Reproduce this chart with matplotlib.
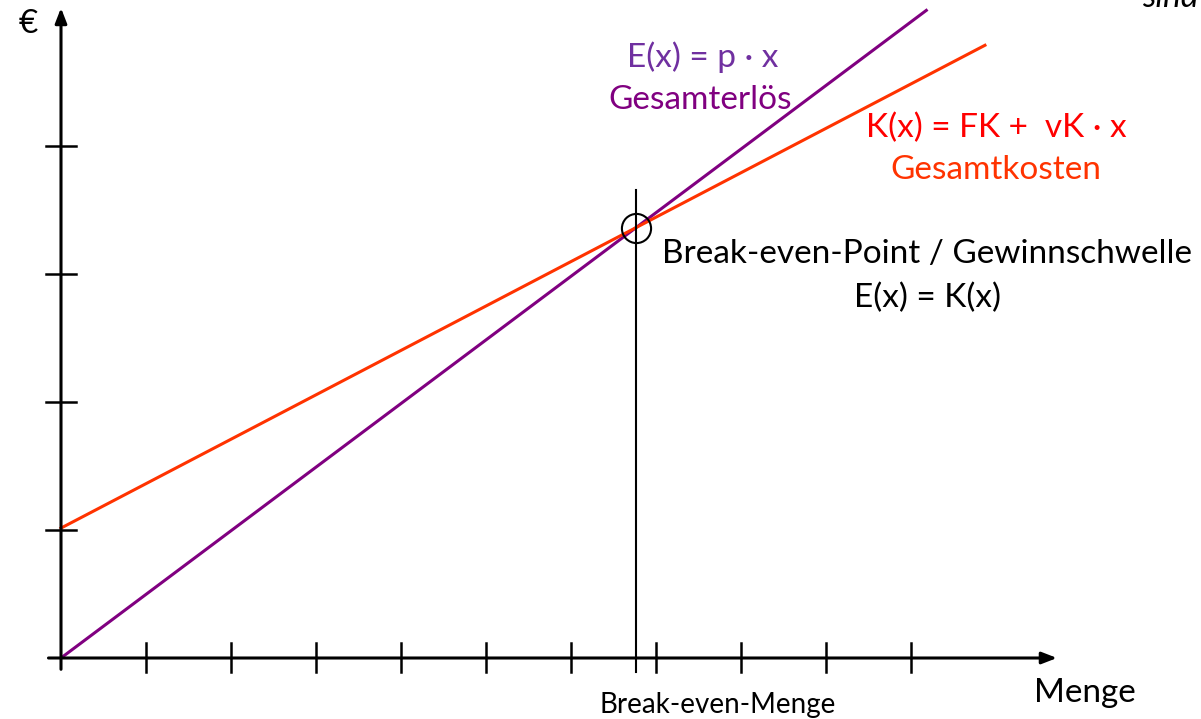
import numpy as np
from matplotlib import pyplot as plt

plt.rcParams['font.family'] = ['Lato', 'DejaVu Sans']

# Modellwerte (in Achseneinheiten)
fk = 1.015        # Fixkosten
vk = 0.347        # variable Kosten je Stueck
p = 0.497         # Preis je Stueck
x_ticks = [1, 2, 3, 4, 5, 6, 7, 8, 9, 10]
y_ticks = [1, 2, 3, 4]
x_end_e = 10.18
x_end_k = 10.87

x_be = fk / (p - vk)
y_be = p * x_be

fig = plt.figure(figsize=(12.01, 7.19), dpi=100)
ax = fig.add_axes([0, 0, 1, 1])
ax.set_xlim(-61 / 85, 1140 / 85)
ax.set_ylim(-61 / 128, 658 / 128)
ax.axis('off')

# Achsen mit Pfeilen
ax.annotate('', xy=(11.75, 0), xytext=(-0.18, 0),
            arrowprops=dict(arrowstyle='-|>,head_length=0.9,head_width=0.35', color='black', lw=2.2))
ax.annotate('', xy=(0, 5.1), xytext=(0, -0.11),
            arrowprops=dict(arrowstyle='-|>,head_length=0.9,head_width=0.35', color='black', lw=2.2))

for t in x_ticks:
    ax.plot([t, t], [-0.11, 0.12], color='black', lw=1.8)
for t in y_ticks:
    ax.plot([-0.18, 0.18], [t, t], color='black', lw=1.8)

# Kosten- und Erloesgerade
xe = np.array([0, x_end_e])
xk = np.array([0, x_end_k])
ax.plot(xe, p * xe, color='#800080', lw=2.2)
ax.plot(xk, fk + vk * xk, color='#FF3300', lw=2.2)

# Break-even
ax.plot([x_be, x_be], [-0.11, 3.66], color='black', lw=1.5)
ax.plot(x_be, y_be, 'o', ms=21, mfc='none', mec='black', mew=1.5)

fs = 24
ax.text(-0.38, 4.95, '€', fontsize=fs, ha='center', va='center')
ax.text(7.55, 4.69, 'E(x) = p · x', color='#7030A0', fontsize=fs, ha='center', va='center')
ax.text(7.52, 4.36, 'Gesamterlös', color='#800080', fontsize=fs, ha='center', va='center')
ax.text(11.0, 4.14, 'K(x) = FK +  vK · x', color='#FF0000', fontsize=fs, ha='center', va='center')
ax.text(11.0, 3.81, 'Gesamtkosten', color='#FF3300', fontsize=fs, ha='center', va='center')
ax.text(10.19, 3.16, 'Break-even-Point / Gewinnschwelle', fontsize=fs, ha='center', va='center')
ax.text(10.19, 2.81, 'E(x) = K(x)', fontsize=fs, ha='center', va='center')
ax.text(7.73, -0.37, 'Break-even-Menge', fontsize=20, ha='center', va='center')
ax.text(12.05, -0.27, 'Menge', fontsize=fs, ha='center', va='center')
ax.text(13.05, 5.16, 'sind', fontsize=fs, style='italic', ha='center', va='center')

plt.savefig('out.png', dpi=100)
